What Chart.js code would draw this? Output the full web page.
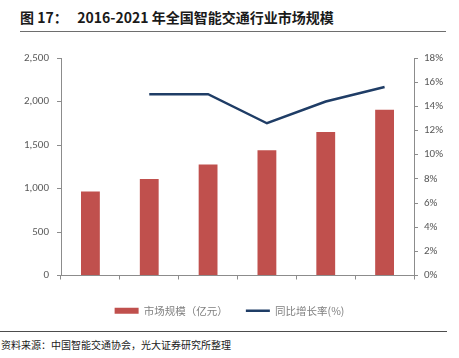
<!DOCTYPE html>
<html>
<head>
<meta charset="utf-8">
<script src="https://cdn.jsdelivr.net/npm/chart.js@4"></script>
<style>
    body { margin: 0; background: #fff; width: 459px; height: 358px; position: relative; overflow: hidden;
           font-family: "Noto Sans CJK SC", "Noto Sans", sans-serif; }
    #title { position: absolute; left: 20px; top: 7px; font-size: 14px; font-weight: bold; color: #1a1a1a; white-space: pre; }
    #titleLine { position: absolute; left: 20px; top: 31px; width: 426px; height: 1px; background: #6e6e6e; }
    #box { position: absolute; left: 0; top: 36px; width: 459px; height: 290px; }
    #srcLine { position: absolute; left: 0; top: 331px; width: 447px; height: 1px; background: #4d4d4d; }
    #source { position: absolute; left: 1px; top: 337px; font-size: 10px; color: #1a1a1a; }
</style>
</head>
<body>
<div id="title">图 17：   2016-2021 年全国智能交通行业市场规模</div>
<div id="titleLine"></div>
<div id="box"><canvas id="chart"></canvas></div>
<div id="srcLine"></div>
<div id="source">资料来源：中国智能交通协会，光大证券研究所整理</div>
<script>
// ================= DATA =================
const years = ["2016", "2017", "2018", "2019", "2020", "2021E"];
const marketSize = [965, 1110, 1275, 1440, 1650, 1905];   // 亿元
const growthRate = [null, 15.0, 15.0, 12.6, 14.4, 15.6];  // %

const leftTicks = [0, 500, 1000, 1500, 2000, 2500];
const rightTicks = [0, 2, 4, 6, 8, 10, 12, 14, 16, 18];

const axisGrey = "#8c8c8c";
const tickFont = { family: "Calibri, Carlito, 'Liberation Sans', sans-serif", size: 11 };

// ================= CHART =================
const ctx = document.getElementById("chart");

new Chart(ctx, {
    type: "bar",
    data: {
        labels: years,
        datasets: [
            {
                type: "line",
                label: "同比增长率(%)",
                data: growthRate,
                yAxisID: "y1",
                borderColor: "#1f3d66",
                borderWidth: 2.5,
                pointRadius: 0,
                pointStyle: "line",
                tension: 0,
                order: 0
            },
            {
                label: "市场规模（亿元）",
                data: marketSize,
                yAxisID: "y",
                backgroundColor: "#c0504d",
                barPercentage: 0.32,
                categoryPercentage: 1,
                pointStyle: "rect",
                order: 1
            }
        ]
    },
    options: {
        responsive: true,
        maintainAspectRatio: false,
        animation: false,
        layout: { padding: { top: 22, left: 0, right: 0, bottom: 0 } },
        plugins: {
            tooltip: { enabled: false },
            legend: {
                position: "bottom",
                reverse: true,
                labels: {
                    usePointStyle: true,
                    pointStyleWidth: 24,
                    boxHeight: 6,
                    padding: 18,
                    color: "#7f7f7f",
                    font: { family: "'Noto Sans CJK SC', sans-serif", size: 10.5 }
                }
            }
        },
        scales: {
            x: {
                grid: { drawOnChartArea: false, offset: true, color: axisGrey, tickLength: 4 },
                border: { color: axisGrey },
                ticks: { color: "#595959", font: tickFont, padding: 6 },
                // labels still sit under the axis, legend just starts closer
                afterFit: s => { s.height = 12; }
            },
            y: {
                position: "left",
                min: 0,
                max: 2500,
                afterBuildTicks: s => { s.ticks = leftTicks.map(v => ({ value: v })); },
                grid: { drawOnChartArea: false, color: axisGrey, tickLength: 4 },
                border: { color: axisGrey },
                ticks: {
                    color: "#595959",
                    font: tickFont,
                    padding: 8,
                    callback: v => v.toLocaleString("en-US")
                },
                afterFit: s => { s.width = 61; }
            },
            y1: {
                position: "right",
                min: 0,
                max: 18,
                afterBuildTicks: s => { s.ticks = rightTicks.map(v => ({ value: v })); },
                grid: { drawOnChartArea: false, color: axisGrey, tickLength: 4 },
                border: { color: axisGrey },
                ticks: {
                    color: "#595959",
                    font: tickFont,
                    padding: 6,
                    callback: v => v + "%"
                },
                afterFit: s => { s.width = 45; }
            }
        }
    }
});
</script>
</body>
</html>
